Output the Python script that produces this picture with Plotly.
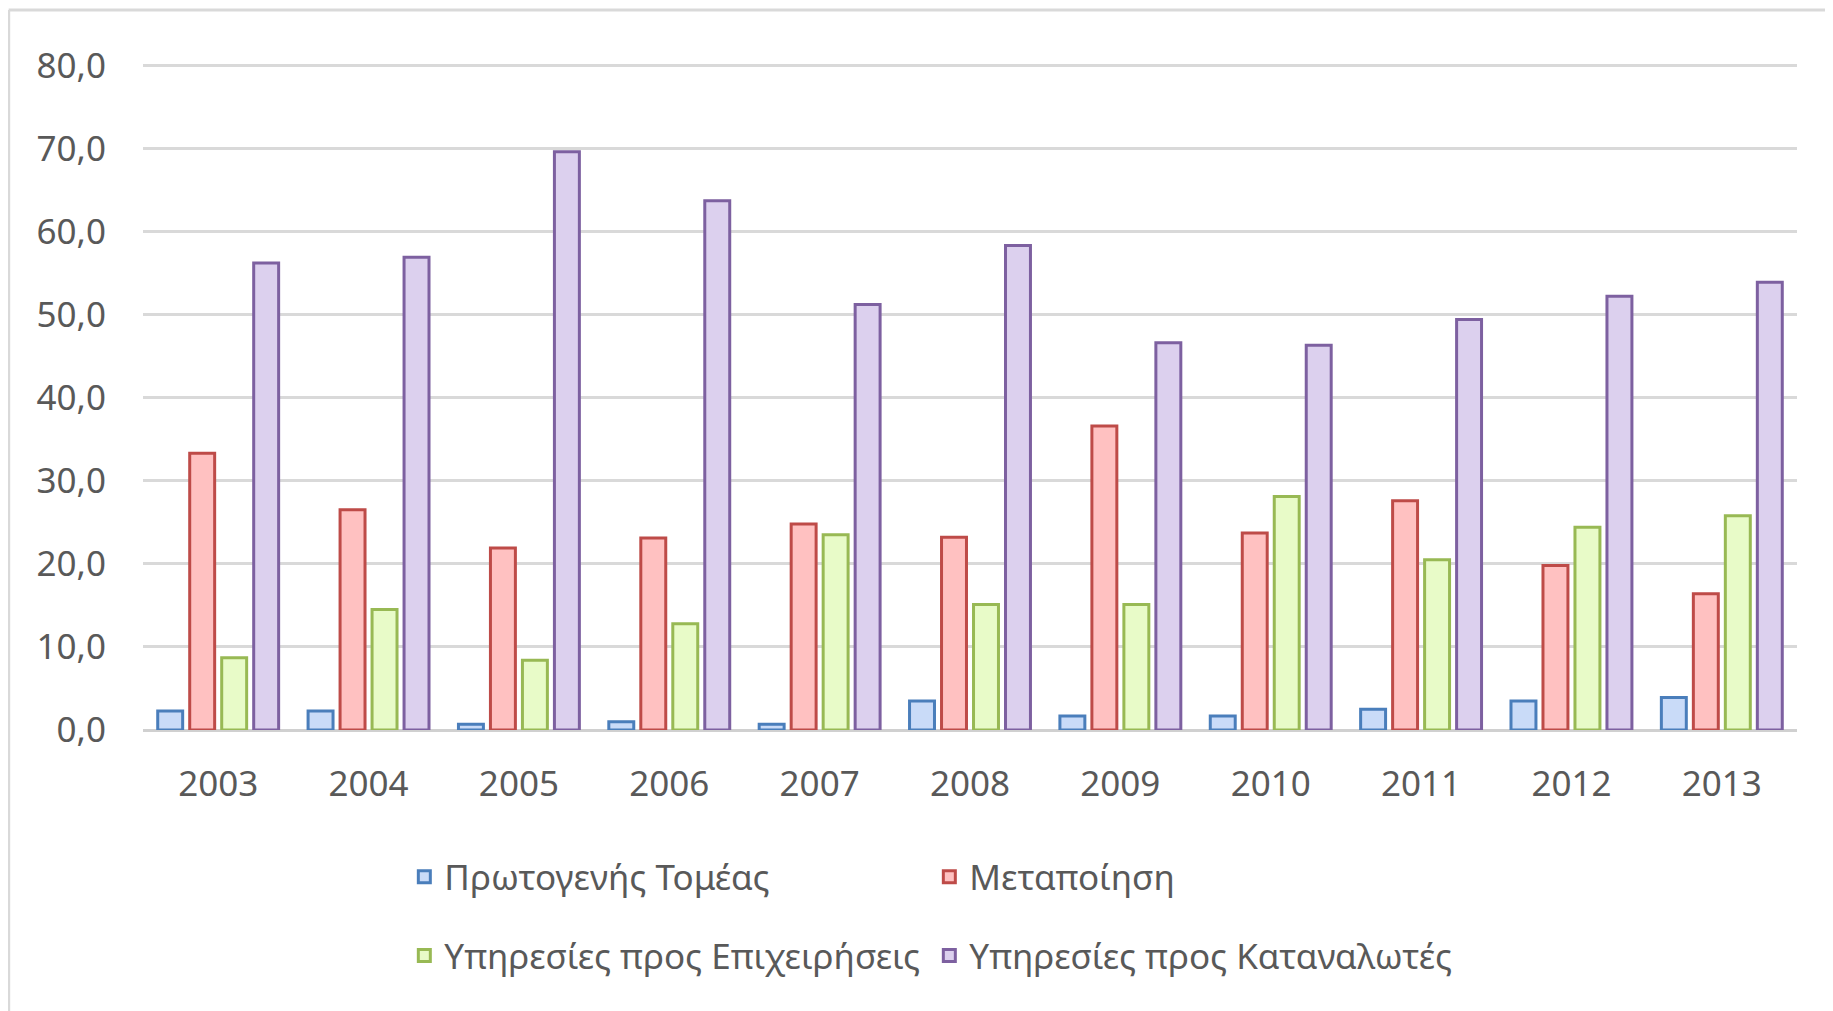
import plotly.graph_objects as go

years = ["2003", "2004", "2005", "2006", "2007", "2008", "2009", "2010", "2011", "2012", "2013"]
primary = [2.3, 2.3, 0.7, 1.0, 0.7, 3.5, 1.7, 1.7, 2.5, 3.5, 3.9]
manufacturing = [33.3, 26.5, 21.9, 23.1, 24.8, 23.2, 36.6, 23.7, 27.6, 19.8, 16.4]
business_services = [8.7, 14.5, 8.4, 12.8, 23.5, 15.1, 15.1, 28.1, 20.5, 24.4, 25.8]
consumer_services = [56.2, 56.9, 69.6, 63.7, 51.2, 58.3, 46.6, 46.3, 49.4, 52.2, 53.9]

names = ["Πρωτογενής Τομέας", "Μεταποίηση", "Υπηρεσίες προς Επιχειρήσεις", "Υπηρεσίες προς Καταναλωτές"]
fills = ["#c9dbf8", "#ffc1c1", "#e8fbc8", "#dcd0ee"]
borders = ["#4a7ebb", "#be4b48", "#98b954", "#7d60a0"]
series = [primary, manufacturing, business_services, consumer_services]
legends = ["legend", "legend", "legend2", "legend2"]

FONT = "Noto Sans"
GREY = "#595959"

fig = go.Figure()
for name, vals, fc, bc, lg in zip(names, series, fills, borders, legends):
    fig.add_trace(go.Bar(
        x=years, y=vals, name=name,
        marker=dict(color=fc, line=dict(color=bc, width=3)),
        legend=lg,
    ))

legend_common = dict(
    orientation="h",
    xanchor="left", yanchor="middle",
    font=dict(family=FONT, size=35, color=GREY),
    entrywidth=480, entrywidthmode="pixels",
    bgcolor="rgba(0,0,0,0)",
    itemclick=False, itemdoubleclick=False,
)

# page body has an 8px margin, so the figure is 8px smaller than the window
fig.update_layout(
    width=1825, height=1003,
    margin=dict(l=135, r=36, t=54, b=281),
    paper_bgcolor="white", plot_bgcolor="white",
    barmode="group", bargap=0.149, bargroupgap=0.22,
    font=dict(family=FONT, size=35, color=GREY),
    showlegend=True,
    legend=dict(x=0.158, y=-0.22, **legend_common),
    legend2=dict(x=0.158, y=-0.338, **legend_common),
    xaxis=dict(
        showgrid=False, showline=False, ticks="",
        tickfont=dict(family=FONT, size=35, color=GREY),
        ticklabelstandoff=30,
    ),
    yaxis=dict(
        range=[0, 80.4], tickvals=[0, 10, 20, 30, 40, 50, 60, 70, 80], tickformat=".1f",
        showgrid=True, gridcolor="#d9d9d9", gridwidth=3,
        zeroline=True, zerolinecolor="#d0d0d0", zerolinewidth=3,
        showline=False, ticks="",
        tickfont=dict(family=FONT, size=35, color=GREY),
        ticklabelstandoff=36,
    ),
    separators=",.",
)

# outer chart border (left and top edges visible)
fig.add_shape(type="line", xref="paper", yref="paper", x0=-0.0812, x1=1.03, y0=1.078, y1=1.078,
              line=dict(color="#d9d9d9", width=3))
fig.add_shape(type="line", xref="paper", yref="paper", x0=-0.0812, x1=-0.0812, y0=1.078, y1=-0.43,
              line=dict(color="#d9d9d9", width=3))

fig.write_html("out.html")
